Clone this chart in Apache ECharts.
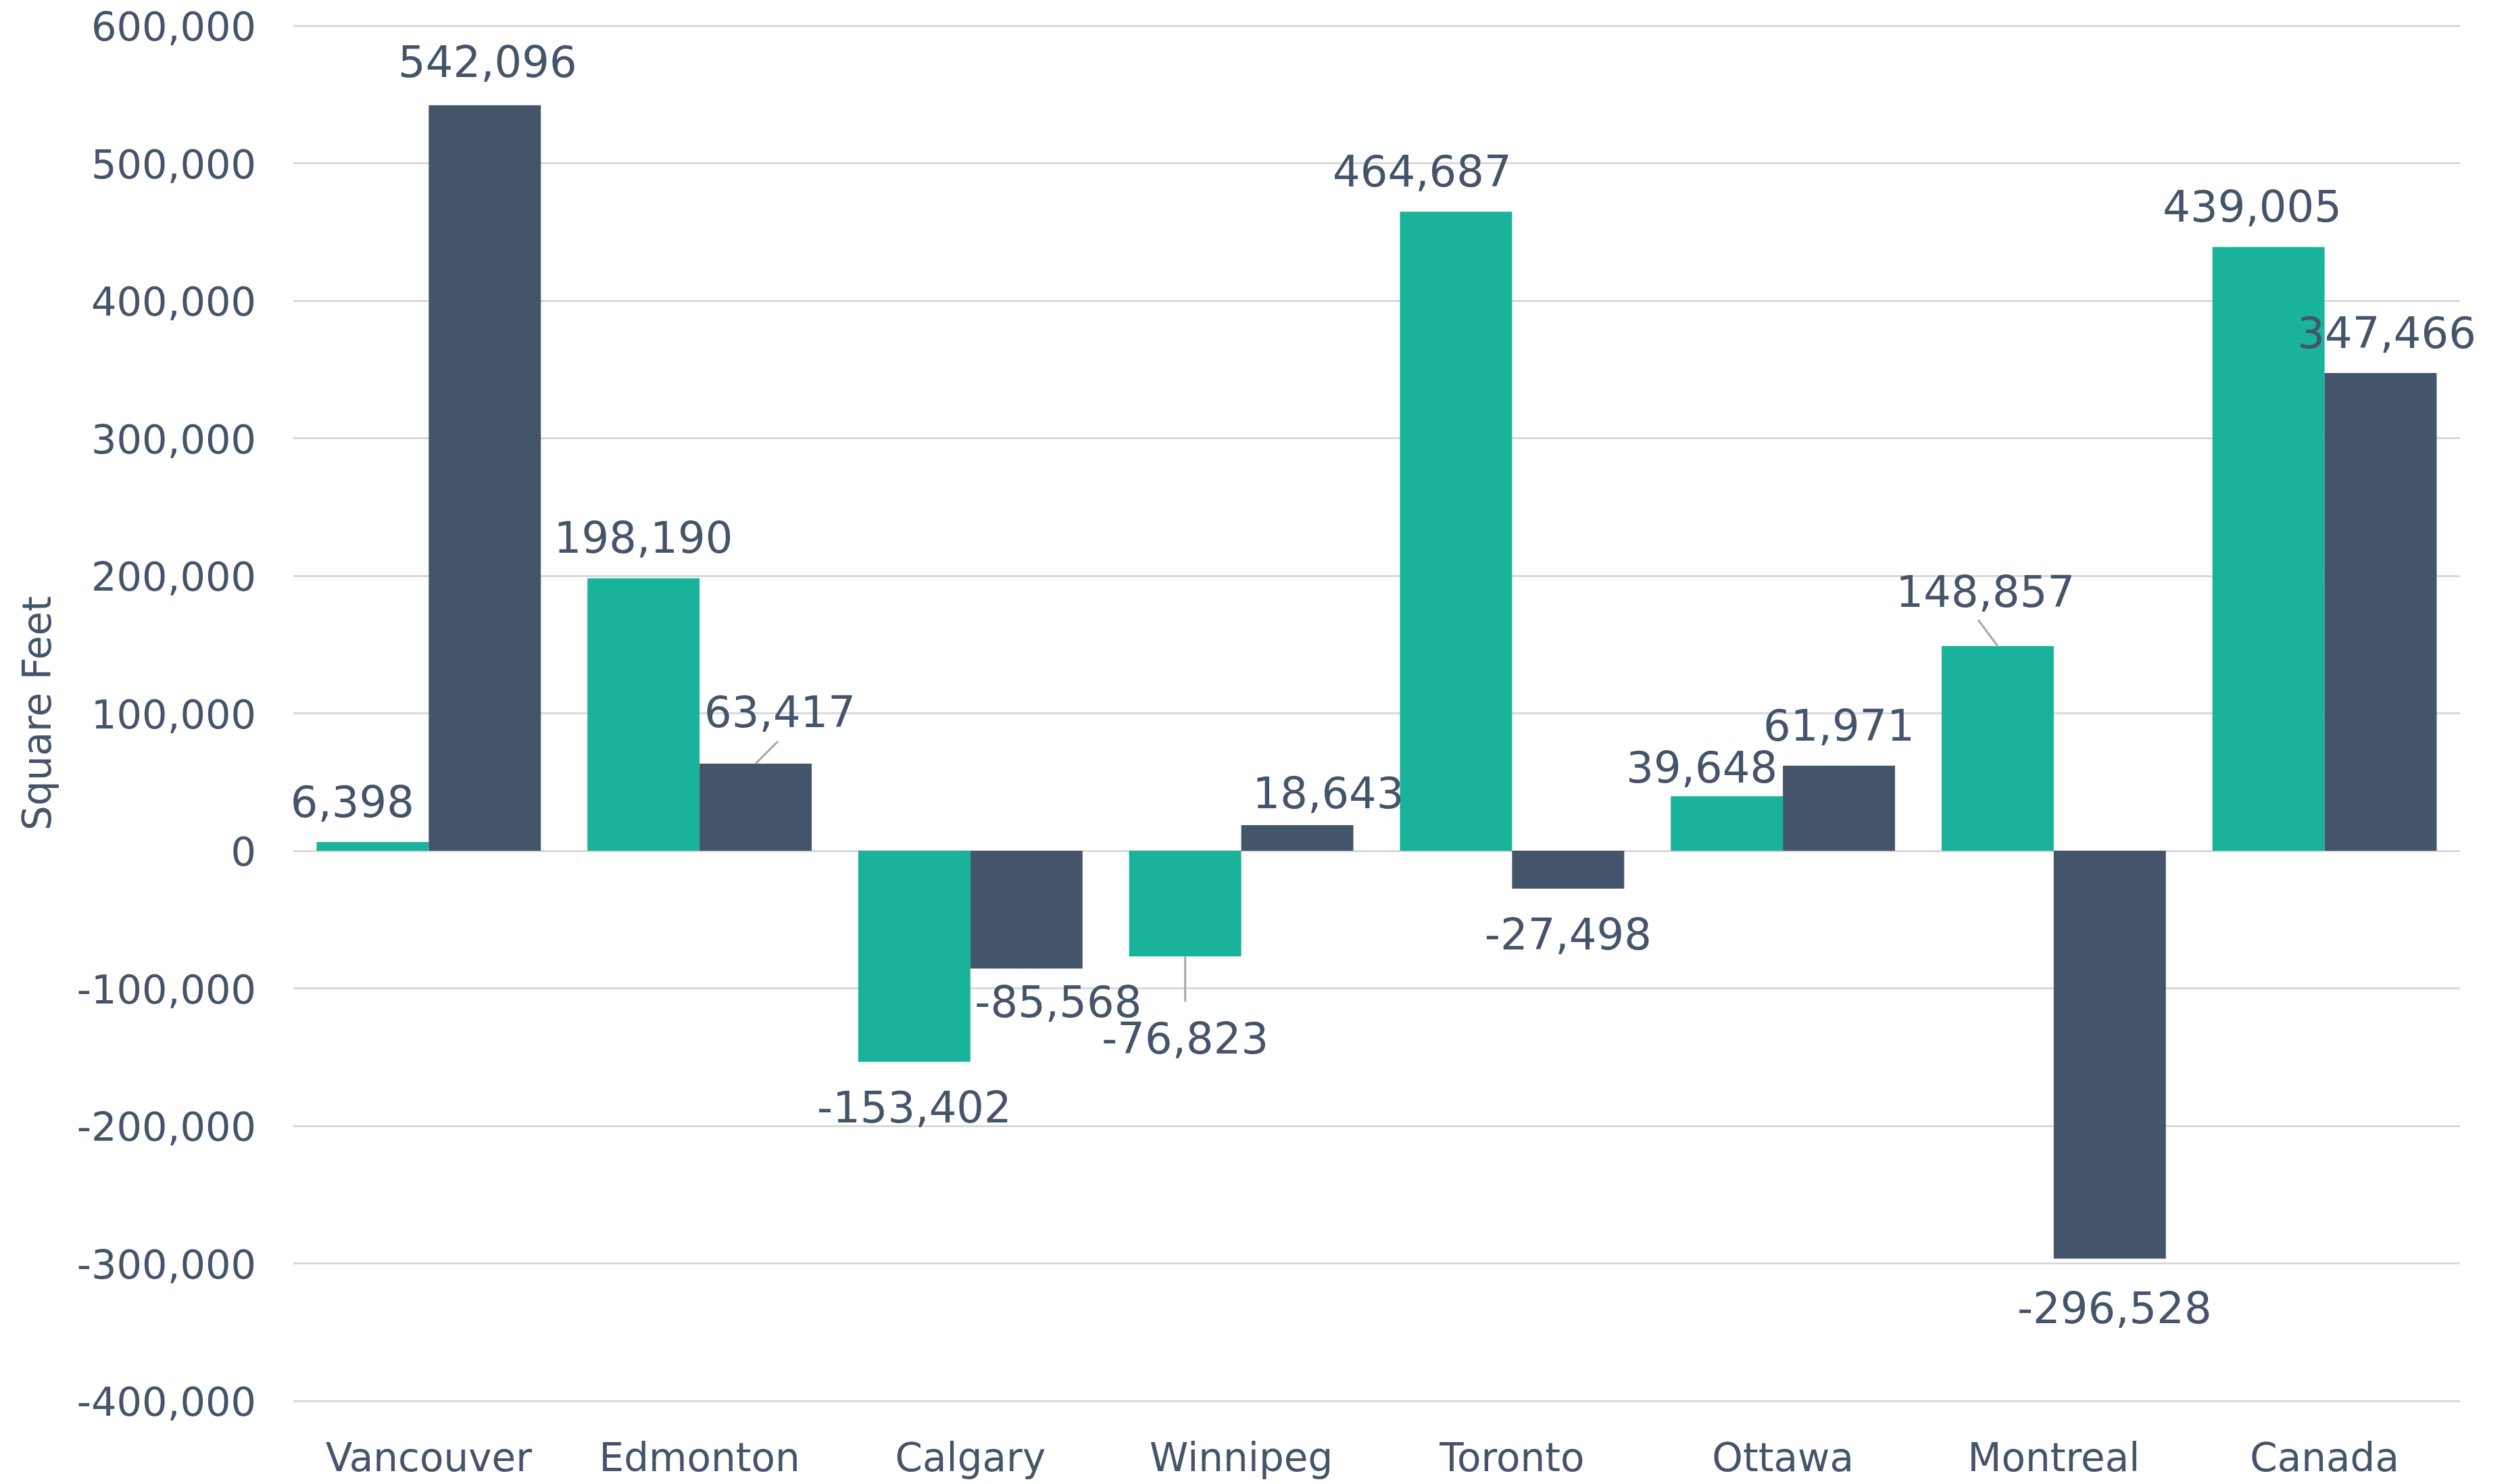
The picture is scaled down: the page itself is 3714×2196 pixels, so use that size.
<!DOCTYPE html>
<html>
<head>
<meta charset="utf-8">
<script src="https://cdn.jsdelivr.net/npm/echarts@6/dist/echarts.min.js"></script>
<style>
  html, body { margin: 0; padding: 0; background: #ffffff; }
  #chart { width: 3714px; height: 2196px; }
</style>
</head>
<body>
<div id="chart"></div>
<script>
// Cities along the x axis
const categories = ['Vancouver', 'Edmonton', 'Calgary', 'Winnipeg', 'Toronto', 'Ottawa', 'Montreal', 'Canada'];
// Values in square feet, one array per series
const greenValues = [6398, 198190, -153402, -76823, 464687, 39648, 148857, 439005];
const slateValues = [542096, 63417, -85568, 18643, -27498, 61971, -296528, 347466];
// Value axis range
const axisMin = -400000;
const axisMax = 600000;
const axisStep = 100000;

const GREEN = '#19B39B';
const SLATE = '#44546A';
const TEXT = '#44546A';
const FONT = 'DejaVu Sans';
const BAR_SHARE = 0.414;

// Nudges for crowded value labels, [dx, dy] in pixels, per series
const labelNudge = [
  [[-30, 0], [0, 0], [0, 0], [0, 54], [-50, 0], [-37, 17], [-18, -21], [-24, 0]],
  [[4, -4], [36, -17], [47, -18], [46, 12], [0, 0], [0, 0], [7, 6], [9, 0]]
];
// Leader lines drawn from the bar end: [dx, dy] of the far end, or null
const leaderEnd = [
  [null, null, null, [0, 67], null, null, [-29, -39], null],
  [null, [33, -33], null, null, null, null, null, null]
];

function fmt(v) { return v.toLocaleString('en-US'); }

function buildData(values) {
  return values.map(function (v) {
    return {
      value: v,
      label: { position: v >= 0 ? 'top' : 'bottom', distance: v >= 0 ? 22 : 41 }
    };
  });
}

function layoutFor(s) {
  return function (params) {
    const n = labelNudge[s][params.dataIndex];
    return { dx: n[0], dy: n[1] };
  };
}

// [category index, value, series index] for every bar that carries a leader line
const leaderData = [];
[greenValues, slateValues].forEach(function (vals, s) {
  vals.forEach(function (v, i) {
    if (leaderEnd[s][i]) leaderData.push([i, v, s]);
  });
});

const chart = echarts.init(document.getElementById('chart'), null, { renderer: 'canvas' });

const labelStyle = {
  show: true,
  color: TEXT,
  fontFamily: FONT,
  fontSize: 64,
  formatter: function (p) { return fmt(p.value); }
};

chart.setOption({
  backgroundColor: '#ffffff',
  animation: false,
  textStyle: { fontFamily: FONT },
  grid: { left: 434, right: 74, top: 38, bottom: 123 },
  xAxis: {
    type: 'category',
    data: categories,
    axisLine: { show: false },
    axisTick: { show: false },
    axisLabel: { color: TEXT, fontFamily: FONT, fontSize: 58, margin: 60 }
  },
  yAxis: {
    type: 'value',
    min: axisMin,
    max: axisMax,
    interval: axisStep,
    name: 'Square Feet',
    nameLocation: 'middle',
    nameGap: 345,
    nameTextStyle: { color: TEXT, fontFamily: FONT, fontSize: 58 },
    axisLine: { show: false },
    axisTick: { show: false },
    axisLabel: {
      color: TEXT, fontFamily: FONT, fontSize: 59, margin: 55,
      verticalAlign: 'top', lineHeight: 14, formatter: fmt
    },
    splitLine: { lineStyle: { color: '#D9D9D9', width: 3 } }
  },
  series: [
    {
      name: 'green',
      type: 'bar',
      data: buildData(greenValues),
      itemStyle: { color: GREEN },
      barWidth: (BAR_SHARE * 100) + '%',
      barGap: '0%',
      label: labelStyle,
      labelLayout: layoutFor(0)
    },
    {
      name: 'slate',
      type: 'bar',
      data: buildData(slateValues),
      itemStyle: { color: SLATE },
      barWidth: (BAR_SHARE * 100) + '%',
      barGap: '0%',
      label: labelStyle,
      labelLayout: layoutFor(1)
    },
    {
      // thin grey leader lines tying displaced labels to their bars
      name: 'leaders',
      type: 'custom',
      silent: true,
      z: 3,
      data: leaderData,
      encode: { x: 0, y: 1 },
      renderItem: function (params, api) {
        const i = api.value(0);
        const v = api.value(1);
        const s = api.value(2);
        const p = api.coord([i, v]);
        const bw = api.size([1, 0])[0] * BAR_SHARE;
        const cx = p[0] + (s === 0 ? -bw / 2 : bw / 2);
        const e = leaderEnd[s][i];
        return {
          type: 'line',
          shape: { x1: cx, y1: p[1], x2: cx + e[0], y2: p[1] + e[1] },
          style: { stroke: '#A6A6A6', lineWidth: 3 }
        };
      }
    }
  ]
});
</script>
</body>
</html>
